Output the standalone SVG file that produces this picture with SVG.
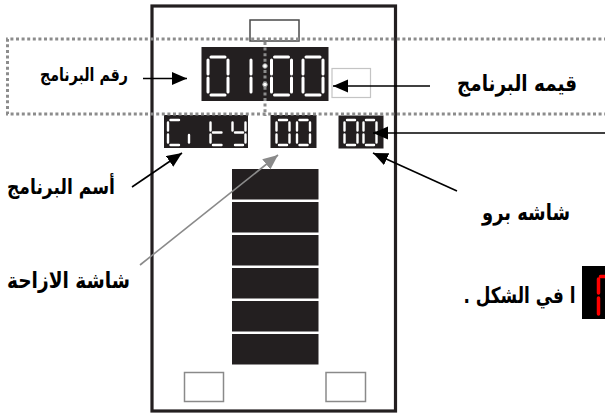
<svg xmlns="http://www.w3.org/2000/svg" width="605" height="416" viewBox="0 0 605 416">
<style>
.frame{fill:none;stroke:#231f20;stroke-width:3.2}
.disp{fill:#231f20}
.seg{fill:none;stroke:#ffffff;stroke-width:3;stroke-linecap:round}
.segs{fill:none;stroke:#ffffff;stroke-width:2.4;stroke-linecap:round}
.dot{fill:none;stroke:#8c8c8c;stroke-width:3;stroke-dasharray:3 2.6}
.lbl{font-family:"DejaVu Sans",sans-serif;font-weight:bold;fill:#000;text-anchor:middle;direction:rtl;unicode-bidi:embed}
.arr{stroke:#000;stroke-width:1.6;fill:none}
.arrg{stroke:#8a8a8a;stroke-width:1.6;fill:none}
</style>
<defs>
<marker id="ah" markerUnits="userSpaceOnUse" markerWidth="16" markerHeight="14" refX="15" refY="6.5" orient="auto"><path d="M0,0 L15,6.5 L0,13 z" fill="#000"/></marker>
<marker id="ahg" markerUnits="userSpaceOnUse" markerWidth="16" markerHeight="14" refX="15" refY="6.5" orient="auto"><path d="M0,0 L15,6.5 L0,13 z" fill="#8a8a8a"/></marker>
<g id="big0" class="seg"><path d="M3,0H17M3,38H17M0,3V17M0,21V35M20,3V17M20,21V35"/></g>
<g id="big1" class="seg"><path d="M20,3V17M20,21V35"/></g>
<g id="sm0" class="segs"><path d="M2.5,0H10.5M2.5,25H10.5M0,2.5V10.5M0,14.5V22.5M13,2.5V10.5M13,14.5V22.5"/></g>
</defs>

<g id="panel">
<rect class="frame" x="152" y="6" width="243.5" height="405"/>
</g>

<g id="top-box"><rect x="250" y="20" width="49" height="21" fill="#fff" stroke="#4a4a4a" stroke-width="1.5"/></g>

<g id="program-number-display">
<rect class="disp" x="201.5" y="47" width="127" height="54"/>
<use href="#big0" x="208" y="57"/>
<use href="#big1" x="231" y="57"/>
<use href="#big0" x="271.5" y="57"/>
<use href="#big0" x="303" y="57"/>
</g>

<g id="side-box"><rect x="332" y="68.5" width="38.5" height="29" fill="#fff" stroke="#c4c4c4" stroke-width="1.2"/></g>

<g id="name-display">
<rect class="disp" x="164" y="115" width="84" height="33"/>
<path class="segs" d="M170.5,120H179M168,122.5V130.5M168,134.5V142.5M170.5,145H179"/>
<path class="segs" d="M189,135V142.5"/>
<path class="segs" d="M210.5,122.5V130.5M210.5,134.5V142.5M213,132.5H221.5M213,145H221.5"/>
<path class="segs" d="M232.5,122.5V130.5M245.5,122.5V130.5M245.5,134.5V142.5M235,132.5H243M235,145H243"/>
</g>

<g id="shift-display">
<rect class="disp" x="270.5" y="115" width="46" height="33"/>
<use href="#sm0" x="276.5" y="120"/>
<use href="#sm0" x="297" y="120"/>
</g>

<g id="bro-display">
<rect class="disp" x="338.5" y="115.5" width="45" height="33"/>
<use href="#sm0" x="344.5" y="120"/>
<use href="#sm0" x="363.5" y="120"/>
</g>

<g id="bars">
<rect class="disp" x="232" y="169" width="86.5" height="30.5"/>
<rect class="disp" x="232" y="202" width="86.5" height="30.5"/>
<rect class="disp" x="232" y="235" width="86.5" height="30.5"/>
<rect class="disp" x="232" y="268" width="86.5" height="30.5"/>
<rect class="disp" x="232" y="301" width="86.5" height="30.5"/>
<rect class="disp" x="232" y="334" width="86.5" height="30.5"/>
</g>

<g id="bottom-boxes">
<rect x="184.5" y="372.5" width="39" height="29" fill="#fff" stroke="#8a8a8a" stroke-width="1.5"/>
<rect x="326" y="372.5" width="39.5" height="29" fill="#fff" stroke="#8a8a8a" stroke-width="1.5"/>
</g>

<g id="dotted-region">
<path class="dot" d="M607,39H7.5V114H607"/>
<path class="dot" d="M265,42V116"/>
<circle cx="265" cy="66" r="2.3" fill="#fff" stroke="#9a9a9a" stroke-width="1"/>
<circle cx="265" cy="84.5" r="2.3" fill="#fff" stroke="#9a9a9a" stroke-width="1"/>
</g>

<g id="connectors">
<line class="arr" x1="143" y1="78.5" x2="187" y2="78.5" marker-end="url(#ah)"/>
<line class="arr" x1="430" y1="86" x2="333" y2="86" marker-end="url(#ah)"/>
<line class="arr" x1="606" y1="133" x2="373" y2="133" marker-end="url(#ah)"/>
<line class="arr" x1="132" y1="187" x2="182" y2="153" marker-end="url(#ah)"/>
<line class="arr" x1="457" y1="191" x2="373" y2="153" marker-end="url(#ah)"/>
<line class="arrg" x1="140" y1="265" x2="278" y2="155" marker-end="url(#ahg)"/>
</g>

<g id="labels">
<text class="lbl" x="84" y="81" font-size="18" textLength="88" lengthAdjust="spacingAndGlyphs">رقم البرنامج</text>
<text class="lbl" x="517" y="91" font-size="22" textLength="120" lengthAdjust="spacingAndGlyphs">قيمه البرنامج</text>
<text class="lbl" x="61" y="194" font-size="21" textLength="108" lengthAdjust="spacingAndGlyphs">أسم البرنامج</text>
<text class="lbl" x="68.5" y="288" font-size="22" textLength="123" lengthAdjust="spacingAndGlyphs">شاشة الازاحة</text>
<text class="lbl" x="526" y="220" font-size="22" textLength="88" lengthAdjust="spacingAndGlyphs">شاشه برو</text>
<text class="lbl" x="519.5" y="303" font-size="22" textLength="112" lengthAdjust="spacingAndGlyphs">ا في الشكل .</text>
</g>

<g id="red-digit">
<rect x="582" y="266" width="23" height="53" fill="#000"/>
<path d="M600.5,276.5H605M598.5,279V293M598.5,298V314" fill="none" stroke="#ff0000" stroke-width="3.5" stroke-linecap="round"/>
</g>
</svg>
